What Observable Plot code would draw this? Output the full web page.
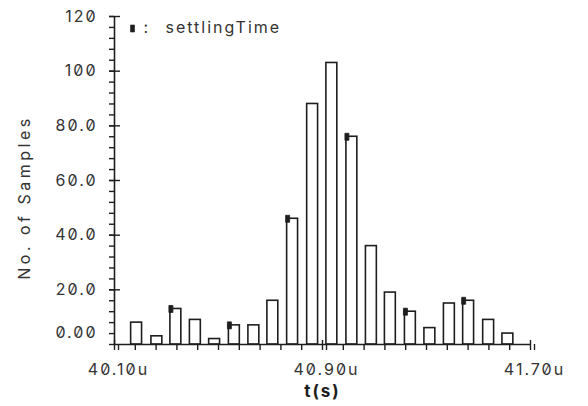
<!DOCTYPE html>
<html>
<head>
<meta charset="utf-8">
<script src="https://cdn.jsdelivr.net/npm/d3@7"></script>
<script src="https://cdn.jsdelivr.net/npm/@observablehq/plot@0.6"></script>
<style>
  html, body { margin: 0; padding: 0; background: #fff; }
  #chart svg, #chart svg text, #chart svg g {
    font-family: Inter, sans-serif !important;
    font-variant: normal !important;
    font-variant-numeric: slashed-zero !important;
    font-feature-settings: "zero" 1 !important;
  }
</style>
</head>
<body>
<div id="chart"></div>
<script>
// Bin centres (µs) and sample counts
const binCenters = [40.185, 40.263, 40.336, 40.411, 40.485, 40.561, 40.636, 40.709, 40.785, 40.862,
                    40.936, 41.013, 41.088, 41.161, 41.238, 41.313, 41.388, 41.462, 41.539, 41.613];
const counts     = [8, 3, 13, 9, 2, 7, 7, 16, 46, 88,
                    103, 76, 36, 19, 12, 6, 15, 16, 9, 4];
const binWidth = 0.042;           // drawn bar width in µs
const markerBins = [2, 5, 8, 11, 14, 17];  // bars carrying the settlingTime marker

const xMajor = [40.10, 40.90, 41.70];
const xMajorLabels = ["40.10u", "40.90u", "41.70u"];
const yMajor = [20, 40, 60, 80, 100, 120];
const yMajorLabels = ["20.0", "40.0", "60.0", "80.0", "100", "120"];
const yZeroLabel = "0.00";
const seriesName = "settlingTime";
const xTitle = "t(s)";
const yTitle = "No. of Samples";

const bins = binCenters.map((c, i) => ({lo: c - binWidth / 2, hi: c + binWidth / 2, count: counts[i]}));
const markers = markerBins.map(i => bins[i]);
const xMinor = d3.range(0, 21).map(i => +(40.10 + i * 0.08).toFixed(2));
const yMinor = d3.range(0, 31).map(i => i * 4);

const ink = "#1e1e1e";
const txt = "#333";
const rectSymbol = { draw(ctx) { ctx.rect(-2, -3.5, 4, 7); } };

const chart = Plot.plot({
  width: 588,
  height: 406,
  marginLeft: 114,
  marginRight: 58,
  marginTop: 16,
  marginBottom: 62,
  style: { fontSize: "16px", fontFamily: "Inter, sans-serif", letterSpacing: "2px", color: txt, background: "#fff" },
  x: { domain: [40.10, 41.70] },
  y: { domain: [0, 120] },
  marks: [
    // bars
    Plot.rectY(bins, { x1: "lo", x2: "hi", y: "count", fill: "#fff", stroke: ink, strokeWidth: 1.6 }),
    // y axis
    Plot.ruleX([40.10], { stroke: ink, strokeWidth: 1.6 }),
    Plot.axisY({ ticks: yMinor, tickSize: 5, tickFormat: () => "", label: null, stroke: ink, strokeWidth: 1.4 }),
    Plot.axisY({ ticks: yMajor, tickSize: 5, tickPadding: 12, tickFormat: d => yMajorLabels[yMajor.indexOf(d)],
                 label: null, stroke: ink, strokeWidth: 1.4, fill: txt, fontVariant: "slashed-zero" }),
    Plot.tickY(yMajor, { y: d => d, insetRight: 410, stroke: ink, strokeWidth: 1.4 }),
    Plot.text([0], { y: d => d, frameAnchor: "left", textAnchor: "end", lineAnchor: "middle", dx: -17, dy: -12,
                     text: () => yZeroLabel, fill: txt }),
    // x axis
    Plot.ruleY([0], { stroke: ink, strokeWidth: 1.6 }),
    Plot.axisX({ ticks: xMinor, tickSize: 6, tickFormat: () => "", label: null, stroke: ink, strokeWidth: 1.4 }),
    Plot.axisX({ ticks: xMajor, tickSize: 6, tickPadding: 13, dx: 4, tickFormat: d => xMajorLabels[xMajor.indexOf(d)],
                 label: null, stroke: ink, strokeWidth: 1.4, fill: txt, fontVariant: "slashed-zero" }),
    Plot.tickX(xMajor, { x: d => d, insetTop: 324, stroke: ink, strokeWidth: 1.4 }),
    // markers
    Plot.dot(markers, { x: "lo", y: "count", dx: 0.5, symbol: rectSymbol, fill: ink, stroke: ink, strokeWidth: 0.8 }),
    // legend
    Plot.dot([seriesName], { frameAnchor: "top-left", dx: 18, dy: 12, symbol: rectSymbol, fill: ink, stroke: ink, strokeWidth: 0.6 }),
    Plot.text([":"], { frameAnchor: "top-left", dx: 29, dy: 11, lineAnchor: "middle", text: d => d, textAnchor: "start", fill: txt }),
    Plot.text([seriesName], { frameAnchor: "top-left", dx: 51, dy: 11, lineAnchor: "middle", text: d => d, textAnchor: "start", fill: txt }),
    // titles
    Plot.text([yTitle], { frameAnchor: "left", textAnchor: "middle", lineAnchor: "middle", dx: -90, dy: 17, rotate: -90,
                          text: d => d, fill: txt, fontSize: 16, style: "letter-spacing:3.5px" }),
    Plot.text([xTitle], { frameAnchor: "bottom", lineAnchor: "middle", dy: 47, text: d => d, fontWeight: "bold", fontSize: 17, fill: ink })
  ]
});
// extra letter spacing on the y title
chart.querySelectorAll("text").forEach(t => { if (t.textContent === yTitle) t.setAttribute("letter-spacing", "3.5px"); });
document.getElementById("chart").appendChild(chart);
</script>
</body>
</html>
